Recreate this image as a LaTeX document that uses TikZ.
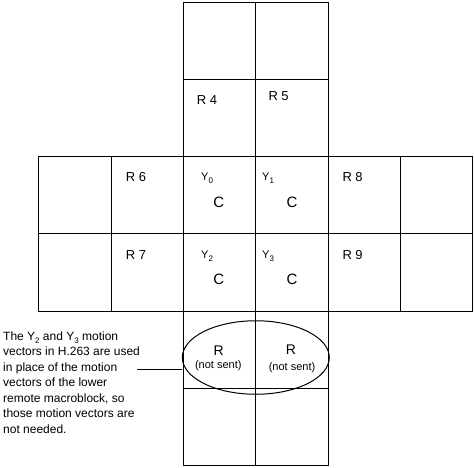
\documentclass[tikz,border=0pt]{standalone}
\usepackage{fontspec}
\setmainfont{Liberation Sans}
\usetikzlibrary{shapes.geometric}
\newcommand{\lowsub}[1]{\raisebox{-3.5pt}{\fontsize{8}{8}\selectfont #1}}
\begin{document}
\begin{tikzpicture}[x=1pt,y=-1pt,
  gridline/.style={line width=1pt},
  rlabel/.style={anchor=base west,inner sep=0pt,font=\fontsize{13}{13}\selectfont},
  ylabel/.style={anchor=base west,inner sep=0pt,font=\fontsize{11}{11}\selectfont},
  clabel/.style={anchor=base,inner sep=0pt,font=\fontsize{15}{15}\selectfont},
  bigr/.style={anchor=base,inner sep=0pt,font=\fontsize{14}{14}\selectfont},
  notsent/.style={anchor=base,inner sep=0pt,font=\fontsize{11}{11}\selectfont}]
\useasboundingbox (0,0) rectangle (474,467);
% central column
\draw[gridline] (183,2.5) rectangle (328,465);
\draw[gridline] (255,2.5) -- (255,465);
\foreach \yy in {79,156,233,311,388} \draw[gridline] (183,\yy) -- (328,\yy);
% middle band
\draw[gridline] (38.5,156) rectangle (472,311);
\draw[gridline] (38.5,233) -- (472,233);
\foreach \xx in {111,400} \draw[gridline] (\xx,156) -- (\xx,311);
% labels
\node[rlabel] (r4) at (196.7,104) {R 4};
\node[rlabel] (r5) at (268.3,100.7) {R 5};
\node[rlabel] (r6) at (125.7,181) {R 6};
\node[rlabel] (r8) at (342.3,181) {R 8};
\node[rlabel] (r7) at (125.7,259) {R 7};
\node[rlabel] (r9) at (342.3,259) {R 9};
\node[ylabel] (y0) at (201,180) {Y\lowsub{0}};
\node[ylabel] (y1) at (262,180) {Y\lowsub{1}};
\node[ylabel] (y2) at (201,258) {Y\lowsub{2}};
\node[ylabel] (y3) at (262,258) {Y\lowsub{3}};
\node[clabel] (c0) at (218.7,207.7) {C};
\node[clabel] (c1) at (292,207.7) {C};
\node[clabel] (c2) at (218.7,284) {C};
\node[clabel] (c3) at (292,284) {C};
\node[bigr] (ra) at (218.7,355) {R};
\node[notsent] (na) at (218.3,368.5) {(not sent)};
\node[bigr] (rb) at (291,354.5) {R};
\node[notsent] (nb) at (292,370) {(not sent)};
% ellipse
\node[draw,line width=1pt,ellipse,minimum width=147pt,minimum height=73.5pt,inner sep=0pt] (ell) at (255.8,357.5) {};
% annotation
\node[anchor=base west,inner sep=0pt,align=left,font=\fontsize{12}{15.5}\selectfont] (note) at (3,433)
  {The Y\lowsub{2} and Y\lowsub{3} motion\\
   vectors in H.263 are used\\
   in place of the motion\\
   vectors of the lower\\
   remote macroblock, so\\
   those motion vectors are\\
   not needed.};
\coordinate (lead) at (137,369);
\draw[line width=1pt] (lead) -- (lead -| ell.west);
\end{tikzpicture}
\end{document}
